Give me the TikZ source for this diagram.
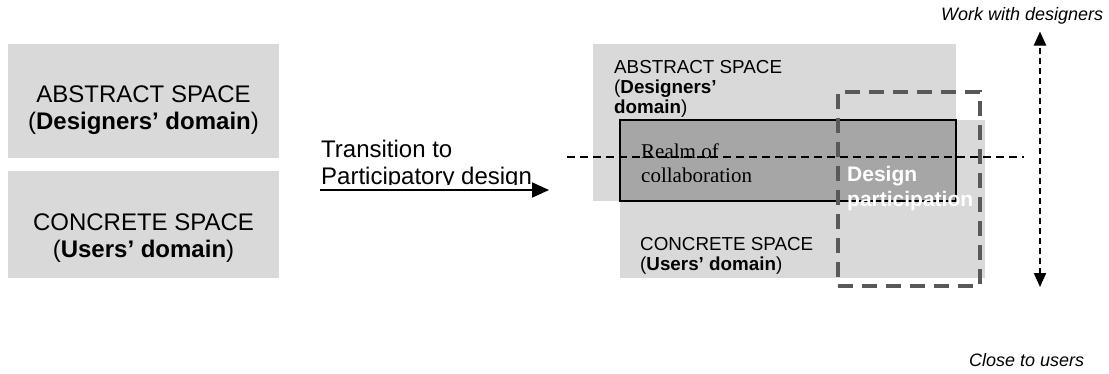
\documentclass[tikz,border=0pt]{standalone}
\usepackage{fontspec}
\setmainfont{Liberation Sans}
\newfontfamily\serifrm{Liberation Serif}
\usetikzlibrary{arrows.meta}
\definecolor{lightbox}{HTML}{D9D9D9}
\definecolor{realmgrey}{HTML}{A6A6A6}
\definecolor{dashgrey}{HTML}{595959}
\begin{document}
\begin{tikzpicture}[x=1pt,y=-1pt,
  box/.style={fill=lightbox, draw=none, inner sep=0pt, outer sep=0pt, anchor=north west},
  lbl/.style={inner sep=0pt, anchor=base west},
  bigtxt/.style={font=\fontsize{24}{27}\selectfont},
  midtxt/.style={font=\fontsize{18.8}{21}\selectfont},
  realmtxt/.style={font=\serifrm\fontsize{21}{24}\selectfont},
  dptxt/.style={font=\bfseries\fontsize{21}{24}\selectfont, text=white},
  sidetxt/.style={font=\itshape\fontsize{18}{21}\selectfont},
  dbox/.style={draw=dashgrey, line width=4pt, dash pattern=on 15pt off 9pt, inner sep=0pt, outer sep=0pt, anchor=north west}
]
\useasboundingbox (0,0) rectangle (1109,373);

% left side
\node[box, minimum width=271pt, minimum height=114pt] (absL) at (8,44) {};
\node[box, minimum width=271pt, minimum height=107pt] (conL) at (8,171) {};
\node[lbl, bigtxt, anchor=base] (absL1) at (143.5,102) {ABSTRACT SPACE};
\node[lbl, bigtxt, anchor=base] (absL2) at (143.5,129) {(\textbf{Designers’ domain})};
\node[lbl, bigtxt, anchor=base] (conL1) at (143.5,230) {CONCRETE SPACE};
\node[lbl, bigtxt, anchor=base] (conL2) at (143.5,257) {(\textbf{Users’ domain})};

% transition
\begin{scope}
\clip (300,130) rectangle (570,184);
\node[lbl, bigtxt] (tr1) at (321,157.7) {Transition to};
\node[lbl, bigtxt] (tr2) at (321,184.7) {Participatory design};
\end{scope}
\coordinate (arS) at (320,190);
\coordinate (arE) at (549,190);
\draw[-{Triangle[length=17pt,width=15pt]}, line width=2pt] (arS) -- (arE);

% right side
\node[box, minimum width=363pt, minimum height=157pt] (absR) at (593,44) {};
\node[box, minimum width=365pt, minimum height=158pt] (conR) at (620,120) {};
\node[box, fill=realmgrey, draw=black, line width=2pt, minimum width=336pt, minimum height=81pt] (realm) at (620,120) {};

\node[lbl, midtxt] (absR1) at (614,73.5) {ABSTRACT SPACE};
\node[lbl, midtxt] (absR2) at (614,93.5) {(\textbf{Designers’}};
\node[lbl, midtxt] (absR3) at (614,113.5) {\textbf{domain})};
\node[lbl, midtxt] (conR1) at (640,250) {CONCRETE SPACE};
\node[lbl, midtxt] (conR2) at (640,270) {(\textbf{Users’ domain})};

\begin{scope}
\clip (620,120) rectangle (956,181.5);
\node[lbl, realmtxt] (realm1) at (641,158) {Realm of};
\node[lbl, realmtxt] (realm2) at (641,182) {collaboration};
\end{scope}

\node[dbox, minimum width=142pt, minimum height=194pt] (dp) at (838,92) {};

\coordinate (hlS) at (567,157);
\coordinate (hlE) at (1024,157);
\draw[line width=2pt, dash pattern=on 8pt off 5pt] (hlS) -- (hlE);

\node[lbl, dptxt] (dp1) at (847,181.5) {Design};
\node[lbl, dptxt] (dp2) at (847,206) {participation};

% axis
\coordinate (vTop) at (1040,31.5);
\coordinate (vBot) at (1040,287);
\draw[{Triangle[length=14pt,width=12pt]}-{Triangle[length=14pt,width=12pt]}, line width=2pt, dash pattern=on 6pt off 4pt] (vBot) -- (vTop);
\node[lbl, sidetxt] (work) at (941,20) {Work with designers};
\node[lbl, sidetxt] (close) at (969,366.7) {Close to users};
\end{tikzpicture}
\end{document}
